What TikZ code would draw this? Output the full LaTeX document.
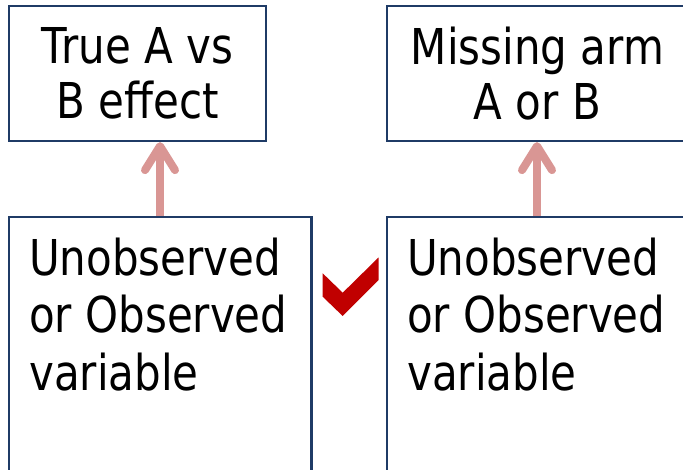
\documentclass[tikz,border=0pt]{standalone}
\usepackage{fontspec}
\setmainfont{DejaVu Sans}[FakeStretch=0.85]
\usetikzlibrary{arrows.meta}
\definecolor{boxline}{HTML}{1F3B66}
\definecolor{arrowpink}{HTML}{D99694}
\definecolor{tickred}{HTML}{C00000}
\tikzset{
  panel/.style={draw=boxline, line width=2.2pt, rectangle, inner sep=0pt},
  headtext/.style={align=center, font=\fontsize{49.4}{55}\selectfont},
  bodytext/.style={align=left, inner sep=0pt, font=\fontsize{49.4}{57.5}\selectfont},
  uparrow/.style={draw=arrowpink, line width=8pt,
    -{Straight Barb[round, length=24pt, width=30pt]}},
}
\begin{document}
\begin{tikzpicture}[x=1pt, y=-1pt]
  \useasboundingbox (0,0) rectangle (683,469);
  \begin{scope}
    \clip (0,0) rectangle (683,469);
    % upper boxes
    \node[panel, minimum width=257pt, minimum height=135pt] (tl) at (137.5,73.5) {};
    \node[headtext] (tlt) at (tl.center) {True A vs\\B effect};
    \node[panel, minimum width=301pt, minimum height=135pt] (tr) at (537.5,73.5) {};
    \node[headtext] (trt) at (537.5,73.5) {Missing arm\\A or B};
    % lower boxes, running past the bottom edge
    \node[panel, minimum width=302.5pt, minimum height=280pt] (bl) at (160.25,357) {};
    \node[bodytext, anchor=north west] (blt) at (29,237.5) {Unobserved\\or Observed\\variable};
    \node[panel, minimum width=310pt, minimum height=280pt] (br) at (542,357) {};
    \node[bodytext, anchor=north west] (brt) at (407,237.5) {Unobserved\\or Observed\\variable};
    % connectors
    \coordinate (lx) at (160,0);
    \coordinate (rx) at (537,0);
    \draw[uparrow] (bl.north -| lx) -- (tl.south -| lx);
    \draw[uparrow] (br.north -| rx) -- (tr.south -| rx);
    % check mark between the lower boxes
    \fill[tickred] (322.7,273.3) -- (322.7,296.7) -- (342.7,316) -- (378.7,280)
      -- (378.7,257.3) -- (342.7,292.7) -- cycle;
  \end{scope}
\end{tikzpicture}
\end{document}
